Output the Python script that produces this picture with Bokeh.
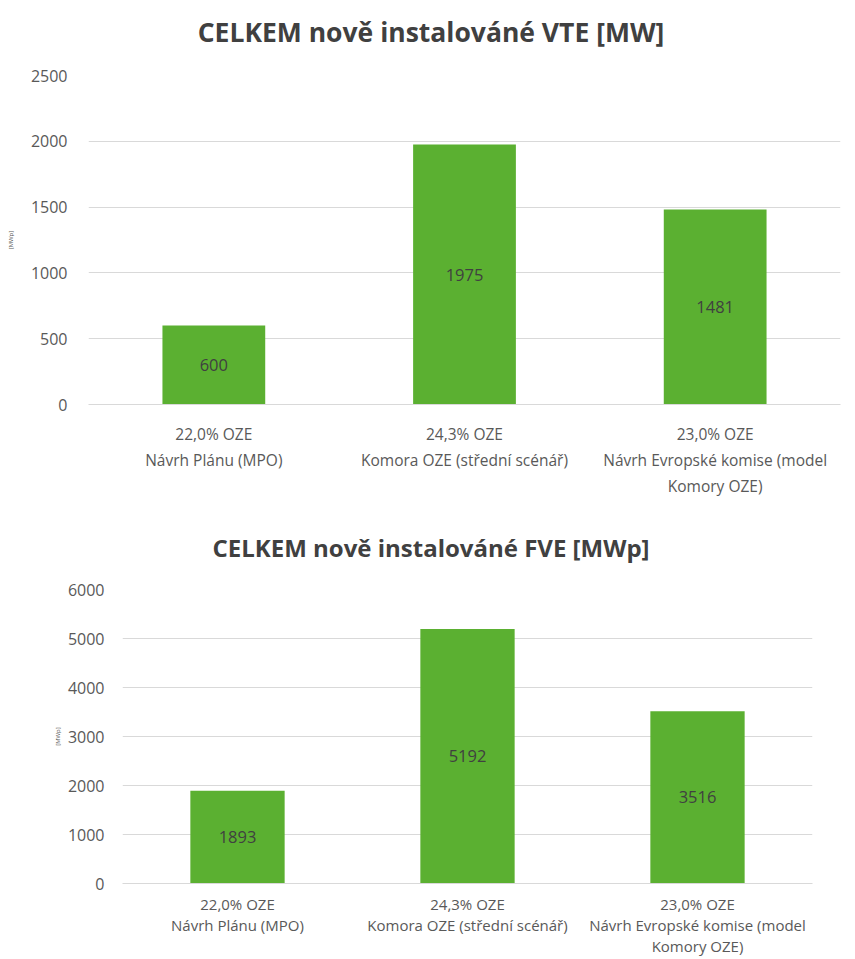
from bokeh.plotting import figure
from bokeh.models import ColumnDataSource, SingleIntervalTicker, Range1d, FactorRange, Div
from bokeh.core.properties import value
from bokeh.embed import file_html
from bokeh.resources import INLINE

categories = ["22,0% OZE\nNávrh Plánu (MPO)",
              "24,3% OZE\nKomora OZE (střední scénář)",
              "23,0% OZE\nNávrh Evropské komise (model\nKomory OZE)"]
vte_values = [600, 1975, 1481]
fve_values = [1893, 5192, 3516]
vte_title = "CELKEM nově instalováné VTE [MW]"
fve_title = "CELKEM nově instalováné FVE [MWp]"
y_label = "[MWp]"

BAR = "#5BB031"
GRID = "#D9D9D9"
TXT = "#595959"
FONT = "Open Sans"


def make_title(text, size, height, pad_top):
    html = (f'<div style="font-family:\'Open Sans\';font-weight:bold;font-size:{size}px;'
            f'color:#404040;text-align:center;line-height:1.2;padding-top:{pad_top}px;'
            f'padding-left:12px;width:850px;white-space:nowrap;">{text}</div>')
    return Div(text=html, width=850, height=height, margin=0)


def make_chart(vals, ymax, step, width, height, mb_left, mb_right, mb_top, mb_bottom,
               tick_standoff, label_standoff, xlab_standoff, xlab_size, line_h):
    src = ColumnDataSource(dict(cat=categories, val=vals, mid=[v / 2 for v in vals],
                                txt=[str(v) for v in vals]))
    p = figure(x_range=FactorRange(*categories, range_padding=0), y_range=Range1d(0, ymax),
               width=width, height=height, output_backend="svg", toolbar_location=None,
               min_border_left=mb_left, min_border_right=mb_right,
               min_border_top=mb_top, min_border_bottom=mb_bottom, margin=0)
    p.outline_line_color = None
    p.vbar(x="cat", top="val", width=0.41, source=src, fill_color=BAR, line_color=None)
    p.text(x="cat", y="mid", text="txt", source=src, text_align="center", text_baseline="middle",
           text_font=value(FONT), text_font_size="16.5px", text_color="#404040")
    p.xgrid.grid_line_color = None
    p.ygrid.grid_line_color = GRID
    p.ygrid.grid_line_width = 1
    p.xaxis.axis_line_color = GRID
    p.xaxis.major_tick_line_color = None
    p.xaxis.minor_tick_line_color = None
    p.xaxis.major_tick_out = 0
    p.xaxis.major_tick_in = 0
    p.xaxis.major_label_text_font = FONT
    p.xaxis.major_label_text_font_size = f"{xlab_size}px"
    p.xaxis.major_label_text_color = TXT
    p.xaxis.major_label_text_line_height = line_h
    p.xaxis.major_label_standoff = xlab_standoff
    p.xaxis.major_label_orientation = "horizontal"
    p.yaxis.ticker = SingleIntervalTicker(interval=step)
    p.yaxis.axis_line_color = None
    p.yaxis.major_tick_line_color = None
    p.yaxis.minor_tick_line_color = None
    p.yaxis.major_tick_out = 0
    p.yaxis.major_tick_in = 0
    p.yaxis.major_label_text_font = FONT
    p.yaxis.major_label_text_font_size = "16px"
    p.yaxis.major_label_text_color = TXT
    p.yaxis.major_label_standoff = tick_standoff
    p.yaxis.axis_label = y_label
    p.yaxis.axis_label_text_font = FONT
    p.yaxis.axis_label_text_font_size = "6px"
    p.yaxis.axis_label_text_font_style = "normal"
    p.yaxis.axis_label_text_color = TXT
    p.yaxis.axis_label_standoff = label_standoff
    return p


title_top = make_title(vte_title, 26.5, 60, 17)
top = make_chart(vte_values, 2500, 500, 850, 450, 88, 10, 15, 106, 17, 13, 18, 15.5, 1.2)
title_bottom = make_title(fve_title, 24, 60, 24)
bottom = make_chart(fve_values, 6000, 1000, 850, 389, 122, 38, 19, 76, 14, 3, 10, 15, 1.05)

open("out.html", "w").write(file_html([title_top, top, title_bottom, bottom], INLINE))
